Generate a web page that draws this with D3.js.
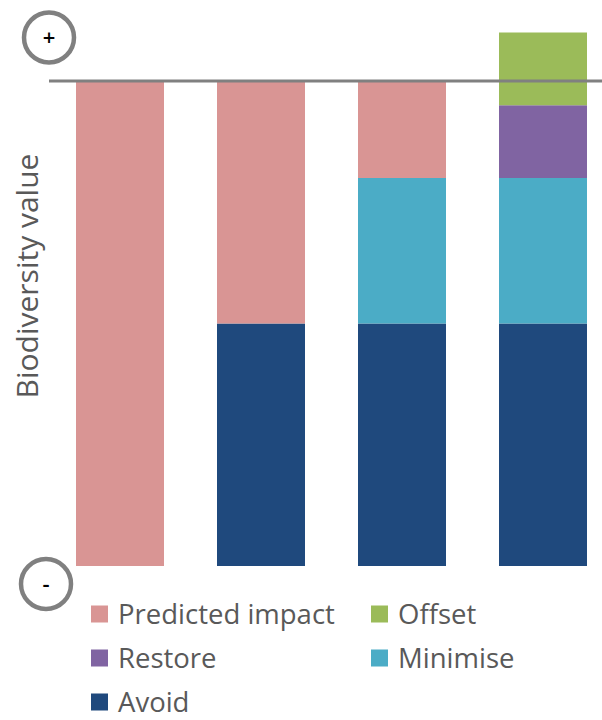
<!DOCTYPE html>
<html>
<head>
<meta charset="utf-8">
<script src="https://cdn.jsdelivr.net/npm/d3@7"></script>
<style>
  body { margin: 0; background: #fff; }
  svg { display: block; font-family: "Open Sans", Lato, sans-serif; }
</style>
</head>
<body>
<div id="chart"></div>
<script>
// stages of the mitigation hierarchy (no axis labels shown)
const stages = ['Impact', 'Avoid', 'Minimise', 'Offset'];

// share of biodiversity value per stage, stacked up from the bottom (-100)
const avoid = [0, 50, 50, 50];
const minimise = [0, 0, 30, 30];
const restore = [0, 0, 0, 15];
const offset = [0, 0, 0, 15];
const predicted = [100, 50, 20, 0];

const seriesNames = ['Avoid', 'Minimise', 'Restore', 'Offset', 'Predicted impact'];
const seriesValues = [avoid, minimise, restore, offset, predicted];
const colors = {
  'Predicted impact': '#d99594',
  'Offset': '#9bbb59',
  'Restore': '#8064a2',
  'Minimise': '#4bacc6',
  'Avoid': '#1f497d',
};
const legendOrder = ['Predicted impact', 'Offset', 'Restore', 'Minimise', 'Avoid'];

const width = 602;
const height = 720;

const rows = stages.map((s, i) => {
  const r = { stage: s };
  seriesNames.forEach((n, j) => { r[n] = seriesValues[j][i]; });
  return r;
});

const stacked = d3.stack().keys(seriesNames)(rows);

const x = d3.scaleBand()
  .domain(stages)
  .range([49.5, 613.5])
  .paddingInner(0.376)
  .paddingOuter(0.188);

const y = d3.scaleLinear().domain([-100, 0]).range([566, 81]);

const svg = d3.select('#chart').append('svg')
  .attr('width', width)
  .attr('height', height);

svg.append('g')
  .selectAll('g')
  .data(stacked)
  .join('g')
  .attr('fill', d => colors[d.key])
  .selectAll('rect')
  .data(d => d)
  .join('rect')
  .attr('x', d => x(d.data.stage))
  .attr('width', x.bandwidth())
  .attr('y', d => y(d[1] - 100))
  .attr('height', d => y(d[0] - 100) - y(d[1] - 100));

// zero line
svg.append('line')
  .attr('x1', 49)
  .attr('x2', width)
  .attr('y1', y(0))
  .attr('y2', y(0))
  .attr('stroke', '#808080')
  .attr('stroke-width', 3);

// + / - markers
const markers = [
  { sign: '+', cx: 49, cy: 37.5 },
  { sign: '-', cx: 46, cy: 584 },
];
const mk = svg.append('g').selectAll('g')
  .data(markers)
  .join('g')
  .attr('transform', d => `translate(${d.cx},${d.cy})`);
mk.append('circle')
  .attr('r', 25)
  .attr('fill', '#fff')
  .attr('stroke', '#808080')
  .attr('stroke-width', 4.5);
mk.append('text')
  .attr('text-anchor', 'middle')
  .attr('dy', '0.35em')
  .attr('font-size', 22)
  .attr('font-weight', 600)
  .attr('fill', '#000')
  .text(d => d.sign);

// y-axis title
svg.append('text')
  .attr('transform', 'translate(38,276) rotate(-90)')
  .attr('text-anchor', 'middle')
  .attr('font-size', 30)
  .attr('fill', '#595959')
  .text('Biodiversity value');

// legend
const legend = svg.append('g').selectAll('g')
  .data(legendOrder)
  .join('g')
  .attr('transform', (d, i) => `translate(${i % 2 === 0 ? 91 : 371},${[614, 658, 702][Math.floor(i / 2)]})`);
legend.append('rect')
  .attr('y', -8.5)
  .attr('width', 17)
  .attr('height', 17)
  .attr('fill', d => colors[d]);
legend.append('text')
  .attr('x', 27)
  .attr('dy', '0.36em')
  .attr('font-size', 27.5)
  .attr('fill', '#595959')
  .text(d => d);
</script>
</body>
</html>
